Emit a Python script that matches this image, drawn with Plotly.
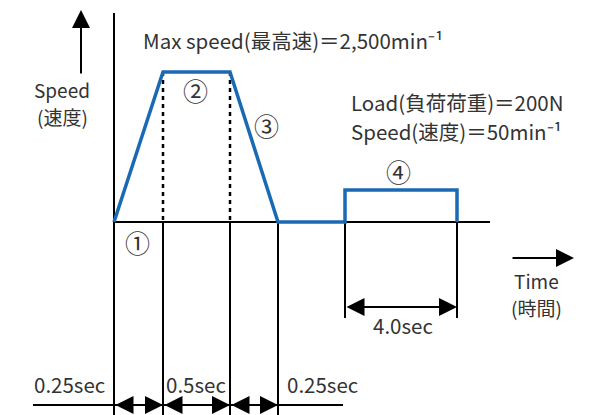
import plotly.graph_objects as go

# schematic positions (diagram units, origin top-left like the drawing)
t_marks = [114, 163, 230, 278]          # start, end accel, end const, end decel
load_start, load_end = 345, 457
base_y = 222
max_y = 72
load_y = 190
axis_end = 490

profile_x = [114, 163, 230, 278, 345, 345, 457, 457]
profile_y = [222, 72, 72, 222, 222, 190, 190, 222]

seg_labels = ["0.25sec", "0.5sec", "0.25sec"]
seg_label_x = [69, 196, 322]
circle_labels = ["①", "②", "③", "④"]
circle_x = [137, 195, 266, 398]
circle_y = [242, 90, 125, 171]

FONT = "Noto Sans CJK JP"
BLUE = "#1a6ab3"
PAD = 8  # default page margin of the html body

fig = go.Figure()

# time axis
fig.add_trace(go.Scatter(x=[114, axis_end], y=[base_y, base_y], mode="lines",
                         line=dict(color="black", width=2), hoverinfo="skip"))
# speed axis
fig.add_trace(go.Scatter(x=[114, 114], y=[13, 420], mode="lines",
                         line=dict(color="black", width=2), hoverinfo="skip"))
# extension lines below axis
for xv in t_marks[1:]:
    fig.add_trace(go.Scatter(x=[xv, xv], y=[base_y, 420], mode="lines",
                             line=dict(color="black", width=2), hoverinfo="skip"))
for xv in [load_start, load_end]:
    fig.add_trace(go.Scatter(x=[xv, xv], y=[base_y, 318], mode="lines",
                             line=dict(color="black", width=2), hoverinfo="skip"))
# dotted guides
for xv in t_marks[1:3]:
    fig.add_trace(go.Scatter(x=[xv, xv], y=[max_y, base_y], mode="lines",
                             line=dict(color="black", width=2.5, dash="4px,4px"), hoverinfo="skip"))
# bottom dimension line
fig.add_trace(go.Scatter(x=[33, 343], y=[405, 405], mode="lines",
                         line=dict(color="black", width=2), hoverinfo="skip"))

# speed profile
fig.add_trace(go.Scatter(x=profile_x, y=profile_y, mode="lines",
                         line=dict(color=BLUE, width=3.5), hoverinfo="skip"))

anns = []
def arrow(x0, y0, x1, y1, both=False):
    anns.append(dict(x=x1, y=y1, ax=x0, ay=y0, xref="x", yref="y", axref="x", ayref="y",
                     text="", showarrow=True, arrowhead=2, arrowsize=1.8, arrowwidth=2,
                     arrowcolor="black", arrowside="end+start" if both else "end",
                     startarrowhead=2, startarrowsize=1.8))

arrow(81, 75, 81, 10)
arrow(511, 258, 574, 258)
arrow(load_start, 307, load_end, 307, both=True)
for a, b in zip(t_marks[:-1], t_marks[1:]):
    arrow(a, 405, b, 405, both=True)

def text(x, y, s, anchor="left", size=20.5):
    anns.append(dict(x=x, y=y, xref="x", yref="y", text=s, showarrow=False,
                     xanchor=anchor, yanchor="middle", align="center",
                     font=dict(family=FONT, size=size, color="#333")))

text(141, 40, "Max speed(最高速)＝2,500min⁻¹")
text(349, 102, "Load(負荷荷重)＝200N")
text(349, 131, "Speed(速度)＝50min⁻¹")
text(62, 89, "Speed", "center", 19)
text(62, 116, "(速度)", "center", 19)
text(536, 280, "Time", "center", 19)
text(536, 307, "(時間)", "center", 19)
text(403, 325, "4.0sec", "center")
for s, xv in zip(seg_labels, seg_label_x):
    text(xv, 384, s, "center")
for s, xv, yv in zip(circle_labels, circle_x, circle_y):
    text(xv, yv, s, "center", 25)

fig.update_layout(
    width=604 - PAD, height=415 - PAD, margin=dict(l=0, r=0, t=0, b=0),
    paper_bgcolor="white", plot_bgcolor="white", showlegend=False,
    xaxis=dict(range=[PAD, 604], visible=False),
    yaxis=dict(range=[415, PAD], visible=False),
    annotations=anns,
)
fig.write_html("out.html")
